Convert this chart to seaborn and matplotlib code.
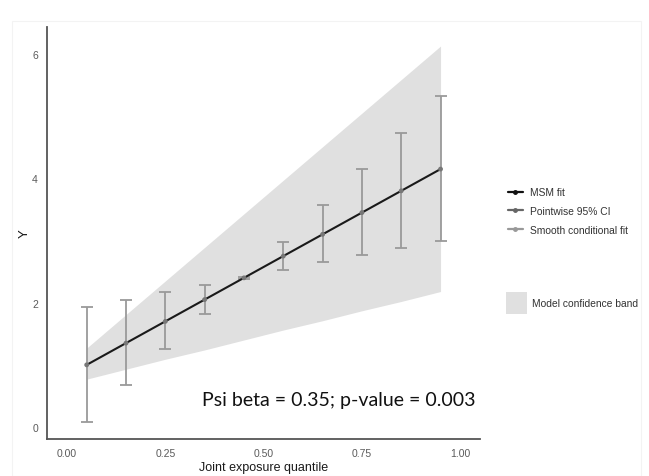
import matplotlib
matplotlib.use("Agg")
import matplotlib.pyplot as plt
import seaborn as sns
import numpy as np
import pandas as pd
from matplotlib.lines import Line2D
from matplotlib.patches import Patch, Rectangle

# ---- data ----
quantiles = [0.05, 0.15, 0.25, 0.35, 0.45, 0.55, 0.65, 0.75, 0.85, 0.95]
msm_fit = [1.00, 1.35, 1.70, 2.05, 2.40, 2.75, 3.10, 3.45, 3.80, 4.15]
ci_low = [0.08, 0.67, 1.25, 1.82, 2.38, 2.52, 2.65, 2.77, 2.88, 3.00]
ci_high = [1.93, 2.04, 2.17, 2.28, 2.42, 2.98, 3.57, 4.15, 4.73, 5.32]
band_low = [0.77, 0.93, 1.09, 1.24, 1.40, 1.56, 1.71, 1.87, 2.02, 2.18]
band_high = [1.27, 1.81, 2.35, 2.89, 3.43, 3.97, 4.51, 5.05, 5.59, 6.13]
x_ticks = [0.00, 0.25, 0.50, 0.75, 1.00]
x_tick_labels = ["0.00", "0.25", "0.50", "0.75", "1.00"]
y_ticks = [0, 2, 4, 6]
annotation = "Psi beta = 0.35; p-value = 0.003"

df = pd.DataFrame({"q": quantiles, "fit": msm_fit, "lo": ci_low, "hi": ci_high,
                   "blo": band_low, "bhi": band_high})

sns.set_style("white")
plt.rcParams["font.family"] = ["Liberation Sans", "DejaVu Sans"]

fig = plt.figure(figsize=(6.49, 4.77), dpi=100)
ax = fig.add_axes([0.0724, 0.0776, 0.6676, 0.8634])

# faint panel frame
fig.patches.append(Rectangle((0.018, 0.0), 0.97, 0.954, transform=fig.transFigure,
                             fill=False, edgecolor="#f3f3f3", linewidth=0.8))

ax.fill_between(df["q"], df["blo"], df["bhi"], color="#e0e0e0", linewidth=0, zorder=1)
ax.errorbar(df["q"], df["fit"], yerr=[df["fit"] - df["lo"], df["hi"] - df["fit"]],
            fmt="none", ecolor="#9a9a9a", elinewidth=1.3, capsize=4.5, capthick=1.3, zorder=2)
sns.lineplot(data=df, x="q", y="fit", color="#1a1a1a", linewidth=1.5, ax=ax, zorder=3)
sns.scatterplot(data=df, x="q", y="fit", color="#777777", s=12, edgecolor="none", ax=ax, zorder=4)

ax.set_xlim(-0.051, 1.051)
ax.set_ylim(-0.193, 6.434)
ax.set_xticks(x_ticks)
ax.set_xticklabels(x_tick_labels)
ax.set_yticks(y_ticks)
ax.tick_params(axis="both", labelsize=7.5, colors="#4d4d4d", length=3, width=0.8, direction="out")
for lab in ax.get_xticklabels() + ax.get_yticklabels():
    lab.set_color("#5a5a5a")
for s in ["top", "right"]:
    ax.spines[s].set_visible(False)
for s in ["left", "bottom"]:
    ax.spines[s].set_color("#555555")
    ax.spines[s].set_linewidth(1.3)
ax.set_xlabel("Joint exposure quantile", fontsize=9, color="#1a1a1a", labelpad=2)
ax.set_ylabel("Y", fontsize=9.5, color="#1a1a1a", labelpad=1)

ax.text(0.69, 0.45, annotation, fontsize=14, family=["Lato", "DejaVu Sans"],
        color="#111111", ha="center", va="center")

handles = [
    Line2D([0], [0], color="#111111", linewidth=1.6, marker="o", markersize=2.5),
    Line2D([0], [0], color="#666666", linewidth=1.6, marker="o", markersize=2.5),
    Line2D([0], [0], color="#999999", linewidth=1.6, marker="o", markersize=2.5),
]
labels = ["MSM fit", "Pointwise 95% CI", "Smooth conditional fit"]
leg1 = fig.legend(handles, labels, loc="upper left", bbox_to_anchor=(0.776, 0.614),
                  frameon=False, fontsize=7.4, handlelength=1.45, handletextpad=0.7,
                  labelspacing=0.85, borderaxespad=0)
for t in leg1.get_texts():
    t.set_color("#333333")
leg2 = fig.legend([Patch(facecolor="#e0e0e0", edgecolor="none")], ["Model confidence band"],
                  loc="upper left", bbox_to_anchor=(0.774, 0.394), frameon=False,
                  fontsize=7.4, handlelength=2.0, handleheight=2.9, handletextpad=0.5,
                  borderaxespad=0)
for t in leg2.get_texts():
    t.set_color("#333333")

fig.savefig("out.png", dpi=100)
